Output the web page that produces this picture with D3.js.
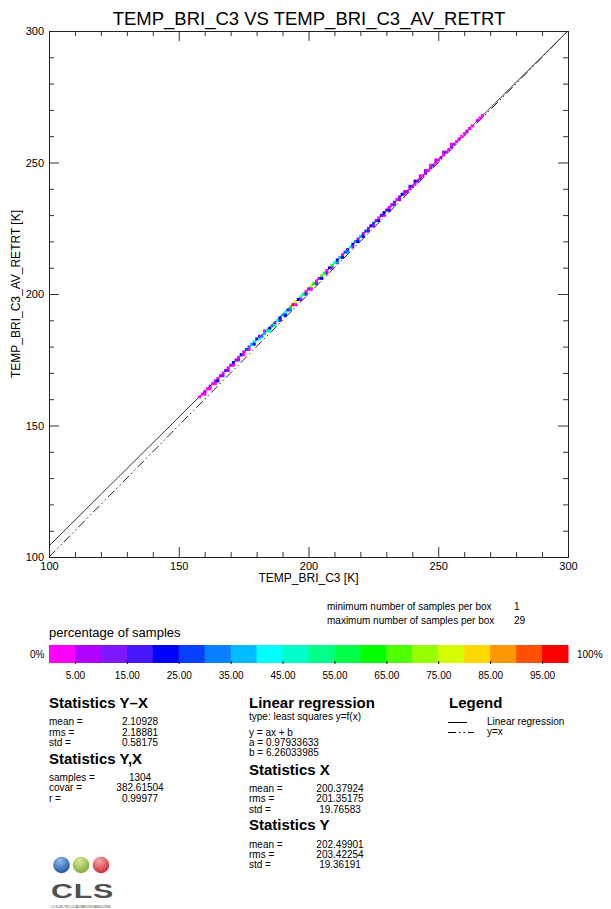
<!DOCTYPE html>
<html><head><meta charset="utf-8">
<script src="https://cdn.jsdelivr.net/npm/d3@7"></script>
<style>
body{margin:0;background:#fff;}
svg{display:block;font-family:"Liberation Sans",Arial,Helvetica,sans-serif;}
</style></head><body>
<svg id="chart" width="611" height="909"></svg>
<script>
// ---------- data ----------
const titleText = "TEMP_BRI_C3 VS TEMP_BRI_C3_AV_RETRT";
const xTitle = "TEMP_BRI_C3 [K]";
const yTitle = "TEMP_BRI_C3_AV_RETRT [K]";
const axisDomain = [100, 300];
const majorTicks = [100, 150, 200, 250, 300];
const minorTicks = [110,120,130,140,160,170,180,190,210,220,230,240,260,270,280,290];

const binX = [
  158,159,160,160,161,162,162,163,164,164,165,165,166,167,167,
  168,169,169,170,171,171,172,173,173,174,175,175,176,177,177,
  178,179,179,180,181,181,182,183,183,184,185,185,186,187,187,
  188,189,189,190,191,191,192,193,193,194,195,195,196,197,197,
  198,199,199,200,201,201,202,203,203,204,205,205,206,207,207,
  208,209,209,210,211,211,212,213,213,214,215,215,216,217,217,
  218,219,219,220,221,221,222,223,223,224,225,225,226,227,227,
  228,229,229,230,231,231,232,233,233,234,235,235,236,237,237,
  238,239,239,240,241,241,242,243,243,244,245,245,246,247,247,
  248,249,249,250,251,252,252,253,254,255,255,256,257,258,259,260,261,262,263,265,266,267
];
const binY = [
  161,162,163,162,164,165,164,166,167,166,168,167,169,170,169,
  171,172,171,173,174,173,175,176,175,177,178,177,179,180,179,
  181,182,181,183,183,184,184,185,186,186,187,186,188,189,188,
  190,191,190,192,193,192,194,195,194,196,197,196,198,199,198,
  200,201,200,202,203,202,204,205,204,206,207,206,208,209,208,
  210,211,210,212,213,212,214,215,214,216,217,216,218,219,218,
  220,221,220,222,222,223,224,224,225,226,226,227,228,228,229,
  230,230,231,232,232,233,234,234,235,236,236,237,238,238,239,
  239,240,241,241,242,243,243,244,245,245,246,247,247,248,249,
  249,250,251,251,252,253,254,254,255,256,257,257,258,259,260,261,262,263,264,266,267,268
];
const binPct = [
  3,3,7,3,3,12,3,3,7,3,3,22,7,3,12,
  17,3,7,12,22,3,7,3,12,22,7,3,27,32,3,
  37,42,22,22,47,12,32,37,3,57,22,42,32,12,52,
  42,22,17,37,42,22,27,62,32,97,77,3,22,42,7,
  57,3,17,7,72,3,62,3,12,7,67,22,57,3,7,
  22,62,12,42,22,32,37,3,22,27,17,32,42,22,7,
  32,12,22,37,22,7,27,17,12,22,7,27,12,22,3,
  17,7,22,12,22,3,7,17,12,3,7,12,22,3,7,
  12,3,17,7,3,22,12,7,3,3,12,7,3,7,3,
  12,3,7,3,7,3,12,7,3,7,3,12,3,7,3,3,7,3,3,7,3,3
];

const regA = 0.97933633, regB = 6.26033985;

const colorBins = ["#ff00ff","#b000ff","#8018ff","#4818ff","#0000ff","#0840ff","#0880ff","#00bcff",
  "#00ffff","#00ffc8","#00ff88","#00ff48","#00ff00","#50ff00","#98ff00","#d4ff00",
  "#ffd800","#ff9800","#ff5000","#ff0000"];
const colorTickValues = [5,15,25,35,45,55,65,75,85,95];
const colorTickLabels = ["5.00","15.00","25.00","35.00","45.00","55.00","65.00","75.00","85.00","95.00"];

const minMaxLabels = ["minimum number of samples per box", "maximum number of samples per box"];
const minMaxValues = ["1", "29"];

const statsYX = [["mean =","2.10928"],["rms =","2.18881"],["std =","0.58175"]];
const statsCorr = [["samples =","1304"],["covar =","382.61504"],["r =","0.99977"]];
const regLines = [["a =","0.97933633"],["b =","6.26033985"]];
const statsX = [["mean =","200.37924"],["rms =","201.35175"],["std =","19.76583"]];
const statsY = [["mean =","202.49901"],["rms =","203.42254"],["std =","19.36191"]];
const legendItems = ["Linear regression","y=x"];

// ---------- drawing ----------
const svg = d3.select("#chart");
const L = 49, R = 568, T = 31, B = 557;
const x = d3.scaleLinear().domain(axisDomain).range([L, R]);
const y = d3.scaleLinear().domain(axisDomain).range([B, T]);
const dashDot = "9,3,1.5,3,1.5,3";

svg.append("text").attr("x", 309).attr("y", 18).attr("text-anchor","middle")
  .attr("dominant-baseline","central").attr("font-size", 18.5).text(titleText);

svg.append("defs").append("clipPath").attr("id","plotclip")
  .append("rect").attr("x",L).attr("y",T).attr("width",R-L).attr("height",B-T);

const plot = svg.append("g").attr("clip-path","url(#plotclip)");

// y = x line
plot.append("line").attr("x1",x(100)).attr("y1",y(100)).attr("x2",x(300)).attr("y2",y(300))
  .attr("stroke","#222").attr("stroke-width",1).attr("stroke-dasharray",dashDot);
// regression line
plot.append("line").attr("x1",x(100)).attr("y1",y(regA*100+regB)).attr("x2",x(300)).attr("y2",y(regA*300+regB))
  .attr("stroke","#333").attr("stroke-width",1);

// boxes
const bw = Math.abs(x(1)-x(0)), bh = Math.abs(y(1)-y(0));
const boxes = binX.map((v,i)=>({x:v, y:binY[i], p:binPct[i]}));
plot.selectAll("rect.box").data(boxes).join("rect").attr("class","box")
  .attr("x", d=>x(d.x-0.5)).attr("y", d=>y(d.y+0.5))
  .attr("width", bw+0.4).attr("height", bh+0.4)
  .attr("fill", d=>colorBins[Math.min(19, Math.floor(d.p/5))]);

// axes
const tickCol = "#333";
function styleAxis(g){ g.select(".domain").remove(); g.selectAll("line").attr("stroke",tickCol); g.selectAll("text").attr("font-size",11).attr("fill","#000").attr("font-family",'"Liberation Sans",Arial,sans-serif'); }
svg.append("g").attr("transform",`translate(0,${B})`)
  .call(d3.axisBottom(x).tickValues(majorTicks).tickSizeInner(-10).tickSizeOuter(0).tickPadding(5).tickFormat(d3.format("d"))).call(styleAxis);
svg.append("g").attr("transform",`translate(0,${B})`)
  .call(d3.axisBottom(x).tickValues(minorTicks).tickSizeInner(-5).tickSizeOuter(0).tickFormat("")).call(styleAxis);
svg.append("g").attr("transform",`translate(0,${T})`)
  .call(d3.axisTop(x).tickValues(majorTicks).tickSizeInner(-10).tickSizeOuter(0).tickFormat("")).call(styleAxis);
svg.append("g").attr("transform",`translate(0,${T})`)
  .call(d3.axisTop(x).tickValues(minorTicks).tickSizeInner(-5).tickSizeOuter(0).tickFormat("")).call(styleAxis);
svg.append("g").attr("transform",`translate(${L},0)`)
  .call(d3.axisLeft(y).tickValues(majorTicks).tickSizeInner(-10).tickSizeOuter(0).tickPadding(5).tickFormat(d3.format("d"))).call(styleAxis);
svg.append("g").attr("transform",`translate(${L},0)`)
  .call(d3.axisLeft(y).tickValues(minorTicks).tickSizeInner(-5).tickSizeOuter(0).tickFormat("")).call(styleAxis);
svg.append("g").attr("transform",`translate(${R},0)`)
  .call(d3.axisRight(y).tickValues(majorTicks).tickSizeInner(-10).tickSizeOuter(0).tickFormat("")).call(styleAxis);
svg.append("g").attr("transform",`translate(${R},0)`)
  .call(d3.axisRight(y).tickValues(minorTicks).tickSizeInner(-5).tickSizeOuter(0).tickFormat("")).call(styleAxis);

svg.append("rect").attr("x",L+0.5).attr("y",T+0.5).attr("width",R-L).attr("height",B-T)
  .attr("fill","none").attr("stroke","#222").attr("stroke-width",1);

svg.append("text").attr("x",(L+R)/2).attr("y",578).attr("text-anchor","middle")
  .attr("dominant-baseline","central").attr("font-size",12).text(xTitle);
svg.append("text").attr("transform",`translate(16,${(T+B)/2}) rotate(-90)`).attr("text-anchor","middle")
  .attr("dominant-baseline","central").attr("font-size",12).text(yTitle);

// min / max
minMaxLabels.forEach((t,i)=>{
  svg.append("text").attr("x",327).attr("y",606+i*14).attr("dominant-baseline","central").attr("font-size",10).text(t);
  svg.append("text").attr("x",514).attr("y",606+i*14).attr("dominant-baseline","central").attr("font-size",10).text(minMaxValues[i]);
});

// colour bar
svg.append("text").attr("x",L).attr("y",632).attr("dominant-baseline","central").attr("font-size",13).text("percentage of samples");
const cx = d3.scaleLinear().domain([0,100]).range([L,R]);
svg.append("g").selectAll("rect").data(colorBins).join("rect")
  .attr("x",(d,i)=>cx(i*5)).attr("y",645).attr("width",cx(5)-cx(0)+0.5).attr("height",18).attr("fill",d=>d);
const cax = svg.append("g").attr("transform","translate(0,663)")
  .call(d3.axisBottom(cx).tickValues(colorTickValues).tickSizeInner(3).tickSizeOuter(0).tickPadding(6)
    .tickFormat((d,i)=>colorTickLabels[i]));
cax.select(".domain").remove();
cax.selectAll("line").attr("stroke","#000").attr("transform","translate(0,-2)");
cax.selectAll("text").attr("font-size",10).attr("font-family",'"Liberation Sans",Arial,sans-serif');
svg.append("text").attr("x",30).attr("y",654).attr("dominant-baseline","central").attr("font-size",10).text("0%");
svg.append("text").attr("x",577).attr("y",654).attr("dominant-baseline","central").attr("font-size",10).text("100%");

// stats blocks
function header(t,xx,yy){ svg.append("text").attr("x",xx).attr("y",yy).attr("dominant-baseline","central")
  .attr("font-size",15).attr("font-weight","bold").text(t); }
function rows(arr,xx,vx,y0,dy,anchor){
  arr.forEach((r,i)=>{
    svg.append("text").attr("x",xx).attr("y",y0+i*dy).attr("dominant-baseline","central").attr("font-size",10).text(r[0]);
    svg.append("text").attr("x",vx).attr("y",y0+i*dy).attr("dominant-baseline","central").attr("text-anchor",anchor||"middle").attr("font-size",10).text(r[1]);
  });
}
header("Statistics Y\u2013X",49,702.5);
rows(statsYX,49,140,721.5,10.5);
header("Statistics Y,X",49,758);
rows(statsCorr,49,140,777,10.8);

header("Linear regression",249,702);
svg.append("text").attr("x",249).attr("y",716.5).attr("dominant-baseline","central").attr("font-size",10).text("type: least squares y=f(x)");
svg.append("text").attr("x",249).attr("y",732).attr("dominant-baseline","central").attr("font-size",10).text("y = ax + b");
rows(regLines,249,266,742,10,"start");
header("Statistics X",249,769);
rows(statsX,249,340,788,10.5);
header("Statistics Y",249,824.5);
rows(statsY,249,340,844,10.2);

header("Legend",449,702.5);
svg.append("line").attr("x1",448).attr("x2",467).attr("y1",722.5).attr("y2",722.5).attr("stroke","#000");
svg.append("line").attr("x1",448).attr("x2",474).attr("y1",732.5).attr("y2",732.5).attr("stroke","#000").attr("stroke-dasharray","8,3,1.5,3,1.5,3");
legendItems.forEach((t,i)=>svg.append("text").attr("x",487).attr("y",721.5+i*10).attr("dominant-baseline","central").attr("font-size",10).text(t));

// logo
const defs = svg.select("defs");
[["lgB","#8fbcf0","#1b4c9c"],["lgG","#dcea9a","#7aa82c"],["lgR","#f6aaaa","#cc2233"]].forEach(g=>{
  const rg = defs.append("radialGradient").attr("id",g[0]).attr("cx","40%").attr("cy","25%").attr("r","80%");
  rg.append("stop").attr("offset","0%").attr("stop-color",g[1]);
  rg.append("stop").attr("offset","100%").attr("stop-color",g[2]);
});
[["lgB",61.5],["lgG",81],["lgR",101]].forEach(c=>{
  svg.append("circle").attr("cx",c[1]).attr("cy",865).attr("r",8.3).attr("fill",`url(#${c[0]})`);
});
svg.append("text").attr("transform","translate(51,898) scale(1.45,1)").attr("font-size",21).attr("font-weight","bold").attr("fill","#505050")
  .attr("letter-spacing",0.5).text("CLS");
svg.append("text").attr("x",51).attr("y",906).attr("dominant-baseline","central").attr("font-size",4).attr("fill","#666")
  .attr("textLength",60).text("COLLECTE LOCALISATION SATELLITES");
</script>
</body></html>
